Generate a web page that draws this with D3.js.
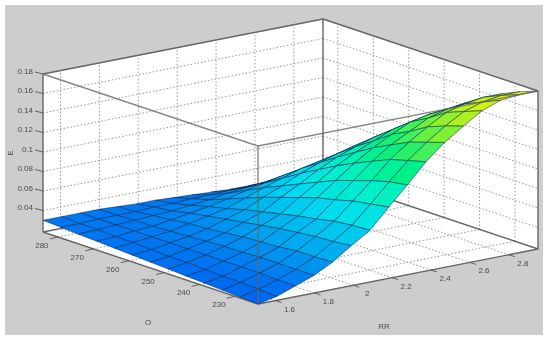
<!DOCTYPE html>
<html lang="en">
<head>
    <meta charset="UTF-8">
    <title>E over RR and O</title>
    <script src="https://d3js.org/d3.v7.min.js"></script>
    <style>
        html, body { margin: 0; padding: 0; background: white; }
        svg { display: block; filter: blur(0.6px); }
        text { font-family: "Liberation Sans", Arial, sans-serif; font-size: 8px; fill: #4a4a4a; }
        .edge { fill: none; stroke: #666; stroke-width: 1.4px; }
        .grid { fill: none; stroke: #999; stroke-width: 1px; stroke-dasharray: 1.5 2; }
        .tick { stroke: #555; stroke-width: 0.9px; }
        .cell { stroke: #00264d; stroke-opacity: 0.65; stroke-width: 0.8px; stroke-linejoin: round; }
    </style>
</head>
<body>
    <svg width="550" height="342"></svg>

    <script>
        const rrTicks = [1.6, 1.8, 2, 2.2, 2.4, 2.6, 2.8];
        const oTicks = [230, 240, 250, 260, 270, 280];
        const eTicks = [0.04, 0.06, 0.08, 0.1, 0.12, 0.14, 0.16, 0.18];

        const rrValues = [1.51, 1.606, 1.702, 1.798, 1.894, 1.99, 2.086, 2.182, 2.278, 2.374, 2.47, 2.566, 2.662, 2.758, 2.854, 2.95];
        const oValues = [223.5, 228.6, 233.6, 238.7, 243.7, 248.8, 253.9, 258.9, 264, 269, 274.1, 279.1, 284.2];

        // one row per oValues entry, one column per rrValues entry
        const eValues = [
            [.018, .022, .029, .036, .046, .059, .071, .091, .110, .130, .146, .159, .171, .178, .180, .180],
            [.019, .023, .029, .036, .045, .057, .070, .088, .107, .125, .140, .153, .164, .170, .173, .173],
            [.020, .024, .030, .036, .045, .056, .068, .085, .102, .120, .134, .146, .157, .162, .165, .165],
            [.021, .024, .030, .036, .043, .054, .064, .080, .096, .112, .125, .135, .145, .150, .153, .153],
            [.022, .025, .030, .035, .042, .052, .061, .076, .090, .104, .116, .126, .135, .139, .141, .141],
            [.023, .026, .030, .035, .041, .049, .057, .070, .082, .095, .105, .113, .121, .125, .127, .127],
            [.024, .026, .030, .034, .039, .046, .053, .064, .074, .085, .094, .101, .107, .111, .112, .112],
            [.025, .027, .030, .033, .037, .043, .049, .058, .066, .075, .082, .088, .093, .096, .097, .097],
            [.026, .028, .030, .032, .036, .040, .044, .051, .058, .064, .070, .074, .078, .080, .081, .081],
            [.027, .028, .030, .031, .034, .037, .040, .044, .049, .053, .057, .060, .063, .064, .065, .065],
            [.028, .029, .030, .031, .032, .033, .035, .037, .040, .042, .044, .046, .048, .049, .049, .049],
            [.029, .029, .030, .030, .030, .031, .031, .032, .032, .033, .033, .034, .034, .034, .034, .034],
            [.030, .030, .030, .030, .029, .028, .028, .027, .026, .025, .024, .024, .023, .023, .023, .023]
        ];

        const rrMin = 1.51, rrMax = 2.95, oMin = 223.5, oMax = 284.2, eMin = 0.018, eMax = 0.18;

        // oblique axes: each scale gives pixels along its own box edge
        const rrX = d3.scaleLinear().domain([rrMin, rrMax]).range([0, 280]);
        const rrY = d3.scaleLinear().domain([rrMin, rrMax]).range([0, -55]);
        const oX = d3.scaleLinear().domain([oMin, oMax]).range([0, -215]);
        const oY = d3.scaleLinear().domain([oMin, oMax]).range([0, -72]);
        const eY = d3.scaleLinear().domain([eMin, eMax]).range([0, -158]);

        function project(rr, o, e) {
            return [258 + rrX(rr) + oX(o), 304 + rrY(rr) + oY(o) + eY(e)];
        }

        const color = d3.scaleLinear()
            .domain([0.018, 0.03, 0.05, 0.073, 0.096, 0.12, 0.15, 0.18])
            .range(["#0064f0", "#0078f0", "#00aaf0", "#00dcf0", "#00f0c8", "#00f082", "#82f032", "#f6f000"]);

        const svg = d3.select("svg");
        const line = d3.line();

        function segment(a, b, cls) {
            svg.append("path").attr("class", cls).attr("d", line([a, b]));
        }

        svg.append("rect").attr("x", 5).attr("y", 5).attr("width", 538).attr("height", 330).attr("fill", "#cdcdcd");

        svg.append("path")
            .attr("fill", "white")
            .attr("d", line([
                project(rrMin, oMax, eMin), project(rrMin, oMax, eMax), project(rrMax, oMax, eMax),
                project(rrMax, oMin, eMax), project(rrMax, oMin, eMin), project(rrMin, oMin, eMin)
            ]) + "Z");

        // dotted grid on the two back walls and the floor
        eTicks.forEach(e => {
            segment(project(rrMin, oMax, e), project(rrMax, oMax, e), "grid");
            segment(project(rrMax, oMax, e), project(rrMax, oMin, e), "grid");
        });
        rrTicks.forEach(rr => {
            segment(project(rr, oMax, eMin), project(rr, oMax, eMax), "grid");
            segment(project(rr, oMin, eMin), project(rr, oMax, eMin), "grid");
        });
        oTicks.forEach(o => {
            segment(project(rrMax, o, eMin), project(rrMax, o, eMax), "grid");
            segment(project(rrMin, o, eMin), project(rrMax, o, eMin), "grid");
        });

        // box edges behind the surface
        segment(project(rrMin, oMax, eMin), project(rrMax, oMax, eMin), "edge");
        segment(project(rrMax, oMax, eMin), project(rrMax, oMin, eMin), "edge");
        segment(project(rrMax, oMax, eMin), project(rrMax, oMax, eMax), "edge");
        segment(project(rrMin, oMax, eMax), project(rrMax, oMax, eMax), "edge");
        segment(project(rrMax, oMax, eMax), project(rrMax, oMin, eMax), "edge");
        segment(project(rrMin, oMax, eMin), project(rrMin, oMax, eMax), "edge");
        segment(project(rrMax, oMin, eMin), project(rrMax, oMin, eMax), "edge");
        segment(project(rrMin, oMin, eMin), project(rrMin, oMax, eMin), "edge");
        segment(project(rrMin, oMin, eMin), project(rrMax, oMin, eMin), "edge");

        // surface, far corner first so nearer cells paint over it
        for (let j = oValues.length - 2; j >= 0; j--) {
            for (let i = rrValues.length - 2; i >= 0; i--) {
                const avg = (eValues[j][i] + eValues[j][i + 1] + eValues[j + 1][i] + eValues[j + 1][i + 1]) / 4;
                svg.append("path")
                    .attr("class", "cell")
                    .attr("fill", color(avg))
                    .attr("d", line([
                        project(rrValues[i], oValues[j], eValues[j][i]),
                        project(rrValues[i + 1], oValues[j], eValues[j][i + 1]),
                        project(rrValues[i + 1], oValues[j + 1], eValues[j + 1][i + 1]),
                        project(rrValues[i], oValues[j + 1], eValues[j + 1][i])
                    ]) + "Z");
            }
        }

        // near box edges stay on top of the surface
        [
            [project(rrMin, oMax, eMax), project(rrMin, oMin, eMax)],
            [project(rrMin, oMin, eMax), project(rrMax, oMin, eMax)],
            [project(rrMin, oMin, eMin), project(rrMin, oMin, eMax)]
        ].forEach(d => {
            svg.append("path").attr("class", "edge").attr("stroke-opacity", 0.8).attr("d", line(d));
        });

        // tick marks and labels
        eTicks.forEach(e => {
            const p = project(rrMin, oMax, e);
            svg.append("line").attr("class", "tick")
                .attr("x1", p[0]).attr("y1", p[1]).attr("x2", p[0] - 8).attr("y2", p[1] - 2);
            svg.append("text").attr("x", p[0] - 10).attr("y", p[1] - 0.5)
                .attr("text-anchor", "end").text(e);
        });
        oTicks.forEach(o => {
            const p = project(rrMin, o, eMin);
            svg.append("line").attr("class", "tick")
                .attr("x1", p[0]).attr("y1", p[1]).attr("x2", p[0] - 8).attr("y2", p[1] + 2);
            svg.append("text").attr("x", p[0] - 16).attr("y", p[1] + 11)
                .attr("text-anchor", "middle").text(o);
        });
        rrTicks.forEach(rr => {
            const p = project(rr, oMin, eMin);
            svg.append("line").attr("class", "tick")
                .attr("x1", p[0]).attr("y1", p[1]).attr("x2", p[0] + 6).attr("y2", p[1] + 2);
            svg.append("text").attr("x", p[0] + 14).attr("y", p[1] + 11)
                .attr("text-anchor", "middle").text(rr);
        });

        svg.append("text").attr("transform", "translate(13,153) rotate(-90)").attr("text-anchor", "middle").text("E");
        svg.append("text").attr("x", 148).attr("y", 325).attr("text-anchor", "middle").text("O");
        svg.append("text").attr("x", 384).attr("y", 329).attr("text-anchor", "middle").text("RR");
    </script>
</body>
</html>
